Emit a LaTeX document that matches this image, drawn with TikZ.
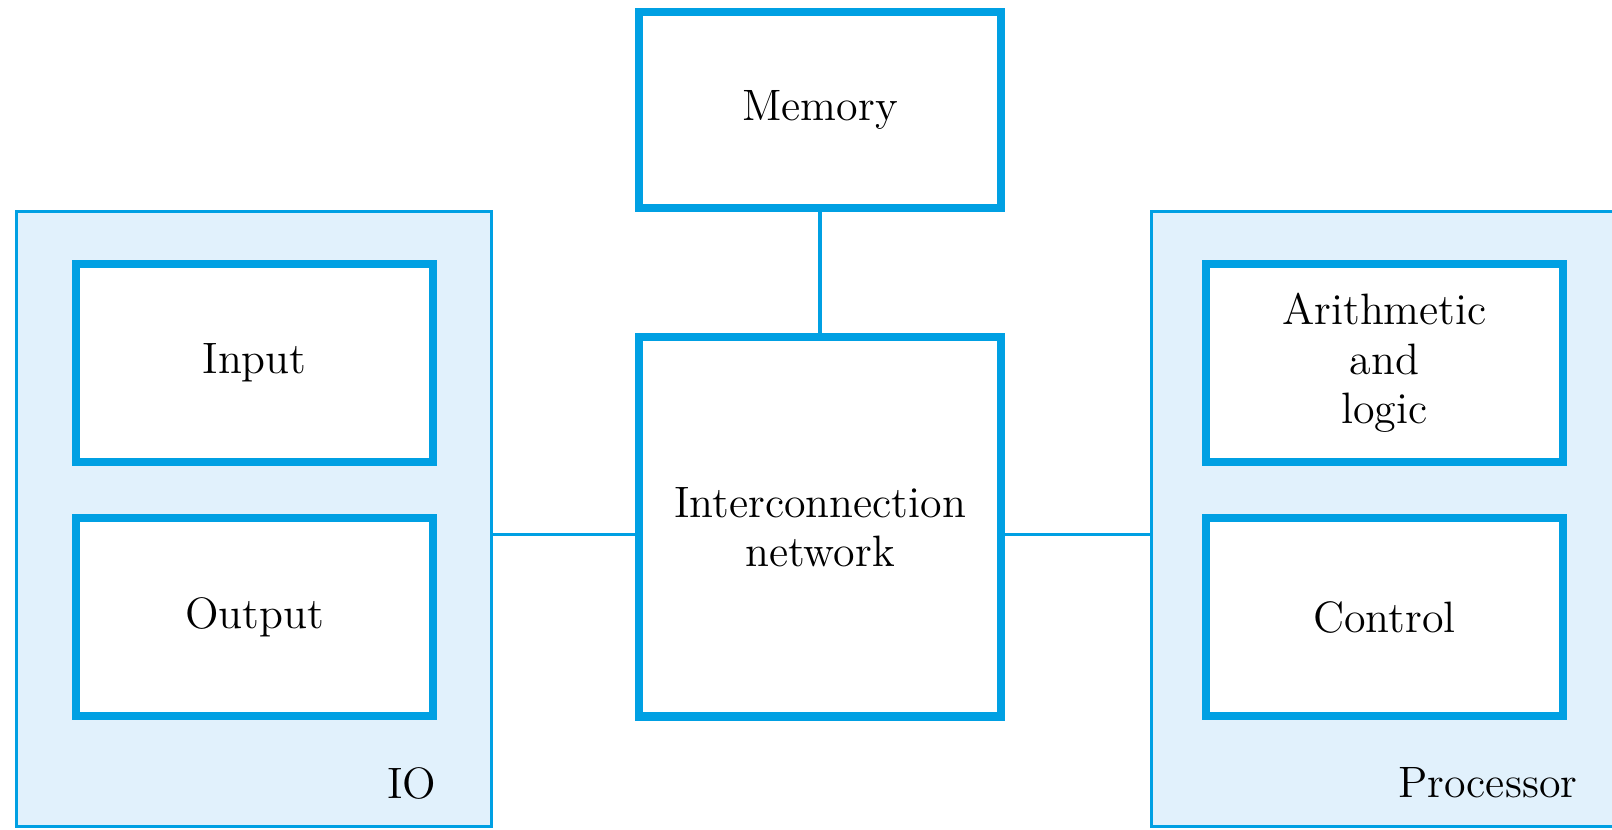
\documentclass[tikz,border=0pt]{standalone}
\usetikzlibrary{positioning}
\definecolor{netblue}{RGB}{0,160,227}
\definecolor{paleblue}{RGB}{225,241,252}

\begin{document}
\begin{tikzpicture}[x=0.01cm,y=-0.01cm] % one unit is one pixel of the reference
\tikzset{unit/.style={draw=netblue,line width=2.3pt,fill=white,minimum width=3.57cm,minimum height=1.98cm,inner sep=0pt,align=center,font=\fontsize{12.5}{14}\selectfont}} % white boxes
\tikzset{group/.style={draw=netblue,line width=0.9pt,fill=paleblue,inner sep=0pt}} % shaded outer boxes
\tikzset{wire/.style={draw=netblue,line width=0.9pt}}
\tikzset{tag/.style={inner sep=0pt,anchor=east,font=\fontsize{12.5}{14}\selectfont}}
\useasboundingbox (0,0) rectangle (1612,829);
% outer groups
\node[group,minimum width=4.75cm,minimum height=6.14cm] (io) at (254,519) {};
\node[group,minimum width=5.48cm,minimum height=6.14cm] (proc) at (1426,519) {};
% middle column
\node[unit,minimum width=3.62cm,minimum height=1.96cm] (mem) at (820,110) {Memory};
\node[unit,minimum width=3.62cm,minimum height=3.79cm,below=1.21cm of mem] (net) {Interconnection\\network};
% io side
\node[unit] (inp) at (254.5,363) {Input};
\node[unit,below=0.48cm of inp] (outp) {Output};
\node[tag] (iotag) at (437,783) {IO};
% processor side
\node[unit] (alu) at (1384.5,363) {Arithmetic\\and\\logic};
\node[unit,below=0.48cm of alu] (ctrl) {Control};
\node[tag] (proctag) at (1578,783) {Processor};
% links
\draw[wire] (mem) -- (net);
\draw[wire] ([yshift=-0.075cm]net.west -| io.east) -- ([yshift=-0.075cm]net.west);
\draw[wire] ([yshift=-0.075cm]net.east) -- ([yshift=-0.075cm]net.east -| proc.west);
\end{tikzpicture}
\end{document}
